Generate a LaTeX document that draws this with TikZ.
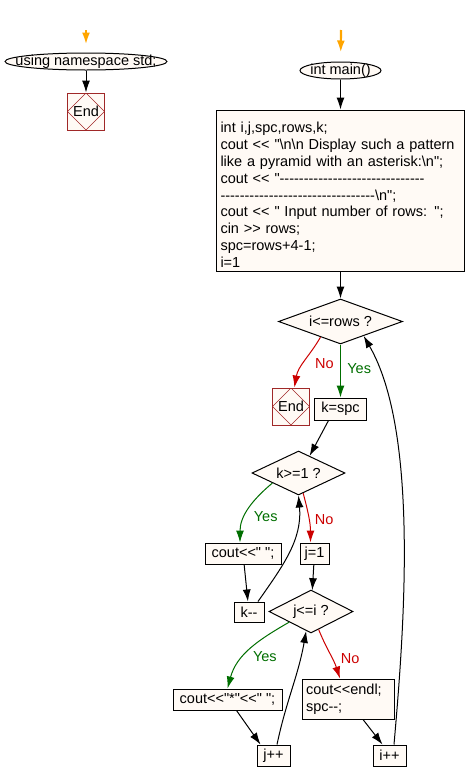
\documentclass[tikz,border=0pt]{standalone}
\usepackage{fontspec}
\setmainfont{Liberation Sans}[Ligatures=TeXOff]
\usepackage{tikz}
\usetikzlibrary{arrows.meta,positioning,shapes}

\definecolor{cream}{RGB}{255,250,245}
\definecolor{yesgreen}{RGB}{0,110,0}
\definecolor{nored}{RGB}{204,0,0}
\definecolor{endred}{RGB}{160,40,40}
\definecolor{startorange}{RGB}{255,165,0}

\begin{document}
\begin{tikzpicture}[x=1pt,y=-1pt,line width=1pt,>={Latex[length=12pt,width=8pt]},font=\fontsize{14.5}{16.9}\selectfont]
\tikzstyle{block} = [draw, rectangle, fill=cream, inner sep=0pt, minimum height=21pt]
\tikzstyle{decision} = [draw, diamond, fill=cream, inner sep=0pt]
\tikzstyle{startstop} = [draw, ellipse, fill=cream, inner sep=0pt, minimum height=17pt]
\tikzstyle{endbox} = [draw=endred, rectangle, fill=cream, inner sep=0pt, minimum size=37pt,
  path picture={\draw[endred, line width=0.6pt] (path picture bounding box.north) -- (path picture bounding box.east) -- (path picture bounding box.south) -- (path picture bounding box.west) -- cycle;}]
\tikzstyle{startline} = [->, startorange, line width=2.2pt]
\tikzstyle{yesline} = [yesgreen]
\tikzstyle{noline} = [nored]

\useasboundingbox (0,0) rectangle (466,782);

\coordinate (nsin) at (86,30);
\node [startstop, minimum width=162pt, label=center:{using namespace std;}] (ns) at (86,61.5) {};
\node [endbox, below = 22pt of ns] (end1) {End};

\coordinate (mainin) at (341,30);
\node [startstop, minimum width=81pt, label=center:{int main()}] (main) at (340.5,70.5) {};
\node [draw, rectangle, fill=cream, minimum width=248pt, minimum height=161pt, text width=240pt, inner xsep=4pt, inner ysep=0pt, align=left, below = 30pt of main] (init) {\rule{0pt}{19pt}int i,j,spc,rows,k;\\
cout << "\textbackslash n\textbackslash n Display such a pattern\\
like a pyramid with an asterisk:\textbackslash n";\\
cout << "------------------------------\\
--------------------------------\textbackslash n";\\
cout << " Input number of rows: ";\\
cin >> rows;\\
spc=rows+4-1;\\
i=1};
\node [decision, minimum width=124pt, minimum height=45pt, aspect=2.76, below = 27pt of init] (c1) {i<=rows ?};
\node [block, minimum width=52pt, minimum height=22pt, below = 53pt of c1] (kspc) {k=spc};
\node [endbox] (end2) at (291,406.5) {End};
\node [decision, minimum width=93pt, minimum height=44pt, aspect=2.11] (c2) at (298.5,473) {k>=1 ?};
\node [block, minimum width=76pt] (cout1) at (243,553.5) {cout<<" ";};
\node [block, minimum width=29pt] (j1) at (314.5,553.5) {j=1};
\node [block, minimum width=30pt, minimum height=20pt] (kmm) at (249,612) {k--};
\node [decision, minimum width=84pt, minimum height=43pt, aspect=1.95] (c3) at (311,611.5) {j<=i ?};
\node [block, minimum width=109pt] (cstar) at (227.5,699.5) {cout<<"*"<<" ";};
\node [block, minimum width=92pt, minimum height=40pt, text width=84pt, inner xsep=4pt, align=left] (cendl) at (348,699) {cout<<endl;\\spc--;};
\node [block, minimum width=33pt] (jpp) at (273.5,755.5) {j++};
\node [block, minimum width=33pt] (ipp) at (389.5,755.5) {i++};

\draw [startline, shorten >=8pt] (nsin) -- (ns);
\draw [->] (ns) -- (end1);
\draw [startline, shorten >=9pt] (mainin) -- (main);
\draw [->] (main) -- (init);
\draw [->] (init) -- (c1);
\draw [->, yesline] (c1) -- node[right=3pt, pos=0.45] {Yes} (kspc);
\draw [->, noline] (c1.218) to[out=-120,in=80] node[right=8pt, pos=0.55] {No} (end2);
\draw [->] ([xshift=-12pt]kspc.south) -- (c2.57);
\draw [->, yesline] (c2.201) to[out=-140,in=90] node[right=5pt, pos=0.62] {Yes} ([xshift=-3pt]cout1.north);
\draw [->, noline] (c2.-77) to[out=-75,in=90] node[right=2pt, pos=0.55] {No} ([xshift=-4pt]j1.north);
\draw [->] (cout1) -- (kmm);
\draw [->] ([xshift=9pt]kmm.north) to[out=55,in=-85] (c2.south);
\draw [->] (j1) -- (c3);
\draw [->, yesline] (c3.206) to[out=-150,in=75] node[right=6pt, pos=0.62] {Yes} (cstar.north);
\draw [->, noline] (c3.-67) to[out=-68,in=108] node[right=5pt, pos=0.6] {No} ([xshift=-8pt]cendl.north);
\draw [->] ([xshift=9pt]cstar.south) -- ([xshift=-13pt]jpp.north);
\draw [->] ([xshift=3.5pt]jpp.north) to[out=78,in=-100] (c3.-104);
\draw [->] ([xshift=15pt]cendl.south) -- ([xshift=-7pt]ipp.north);
\draw [->] ([xshift=4.5pt]ipp.north) to[out=85,in=-60,looseness=0.7] (c1.-32);
\end{tikzpicture}
\end{document}
